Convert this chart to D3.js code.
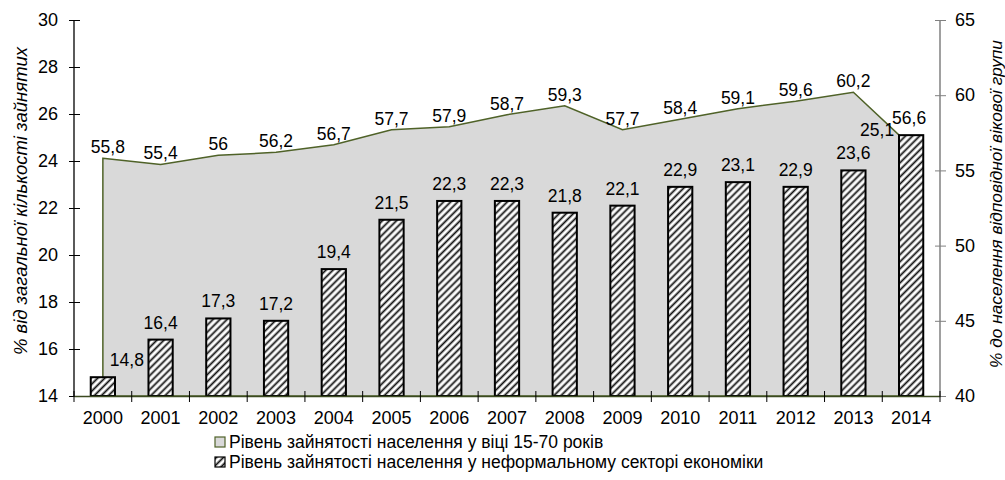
<!DOCTYPE html>
<html><head><meta charset="utf-8">
<script src="https://cdn.jsdelivr.net/npm/d3@7/dist/d3.min.js"></script>
<style>
body{margin:0;background:#fff;}
text{font-family:"Liberation Sans",Arial,sans-serif;fill:#000;}
</style></head>
<body><svg id="c" width="1005" height="480"></svg>
<script>
const years = ["2000","2001","2002","2003","2004","2005","2006","2007","2008","2009","2010","2011","2012","2013","2014"];
const employment1570 = [55.8,55.4,56,56.2,56.7,57.7,57.9,58.7,59.3,57.7,58.4,59.1,59.6,60.2,56.6];
const informal = [14.8,16.4,17.3,17.2,19.4,21.5,22.3,22.3,21.8,22.1,22.9,23.1,22.9,23.6,25.1];
const leftTicks = [14,16,18,20,22,24,26,28,30];
const rightTicks = [40,45,50,55,60,65];
const legendLabels = ["Рівень зайнятості населення у віці 15-70 років","Рівень зайнятості населення у неформальному секторі економіки"];
const leftTitle = "% від загальної кількості зайнятих";
const rightTitle = "% до населення відповідної вікової групи";

const svg = d3.select("#c");
const L=74, R=940, T=20, B=396;
const FS = "17.5px";
const fmt = v => String(v).replace(".", ",");

const x = d3.scaleBand().domain(years).range([L,R]).padding(0);
const yL = d3.scaleLinear().domain([14,30]).range([B,T]);
const yR = d3.scaleLinear().domain([40,65]).range([B,T]);
const bw = x.bandwidth()*0.42;
const cx = d => x(d)+x.bandwidth()/2;

const defs = svg.append("defs");
const P = 5;
const pat = defs.append("pattern").attr("id","hatch").attr("patternUnits","userSpaceOnUse")
  .attr("width",P).attr("height",P).attr("patternTransform","rotate(45)");
pat.append("rect").attr("width",P).attr("height",P).attr("fill","#fff");
pat.append("rect").attr("x",0).attr("width",0.8).attr("height",P).attr("fill","#a0a0a0");
pat.append("rect").attr("x",0.8).attr("width",1.3).attr("height",P).attr("fill","#111");
pat.append("rect").attr("x",2.1).attr("width",0.8).attr("height",P).attr("fill","#a0a0a0");

// area
const area = d3.area().x((d,i)=>cx(years[i])).y0(B).y1(d=>yR(d));
svg.append("path").datum(employment1570).attr("d",area)
  .attr("fill","#d9d9d9").attr("stroke","#4f6228").attr("stroke-width",1.5);

// bars
svg.append("g").selectAll("rect").data(informal).join("rect")
  .attr("x",(d,i)=>cx(years[i])-bw/2).attr("width",bw)
  .attr("y",d=>yL(d)).attr("height",d=>B-yL(d))
  .attr("fill","url(#hatch)").attr("stroke","#000").attr("stroke-width",2);

// left axis
const gl = svg.append("g").attr("transform",`translate(${L},0)`)
  .call(d3.axisLeft(yL).tickValues(leftTicks).tickSize(5).tickPadding(11).tickFormat(d=>d));
gl.select(".domain").attr("stroke","#000").attr("stroke-width",1.3).attr("d",`M0,${T}V${B}`);
gl.selectAll(".tick line").attr("x1",6).attr("x2",-5).attr("stroke","#000");
gl.selectAll(".tick text").style("font-size","18px");

// right axis
const gr = svg.append("g").attr("transform",`translate(${R},0)`)
  .call(d3.axisRight(yR).tickValues(rightTicks).tickSize(6).tickPadding(9).tickFormat(d=>d));
gr.select(".domain").attr("stroke","#808080").attr("stroke-width",1.5).attr("d",`M0,${T}V${B}`);
gr.selectAll(".tick line").attr("x1",-5).attr("x2",6).attr("stroke","#808080");
gr.selectAll(".tick text").style("font-size","18px");

// x axis
const gx = svg.append("g").attr("transform",`translate(0,${B})`)
  .call(d3.axisBottom(x).tickSize(0).tickPadding(15));
gx.select(".domain").attr("stroke","#3b4a20").attr("stroke-width",1.3);
gx.selectAll(".tick text").style("font-size","18px");
const bounds = years.map(d=>x(d)).concat([R]);
svg.append("g").selectAll("line").data(bounds).join("line")
  .attr("x1",d=>d).attr("x2",d=>d).attr("y1",B-5).attr("y2",B+6)
  .attr("stroke","#000").attr("stroke-width",1);

// bar labels
const barOff = {0:[24,0],14:[-34,12]};
svg.append("g").selectAll("text").data(informal).join("text")
  .attr("x",(d,i)=>cx(years[i])+(barOff[i]?barOff[i][0]:0))
  .attr("y",(d,i)=>yL(d)-11+(barOff[i]?barOff[i][1]:0))
  .attr("text-anchor","middle").style("font-size",FS).text(d=>fmt(d));

// line labels
const lineOff = {0:[5,0],14:[-2,-17]};
svg.append("g").selectAll("text").data(employment1570).join("text")
  .attr("x",(d,i)=>cx(years[i])+(lineOff[i]?lineOff[i][0]:0))
  .attr("y",(d,i)=>yR(d)-5+(lineOff[i]?lineOff[i][1]:0))
  .attr("text-anchor","middle").style("font-size",FS).text(d=>fmt(d));

// titles
svg.append("text").attr("transform",`translate(27,201) rotate(-90)`)
  .attr("text-anchor","middle").style("font-size","18.5px").style("font-style","italic").text(leftTitle);
svg.append("text").attr("transform",`translate(1002,204) rotate(-90)`)
  .attr("text-anchor","middle").style("font-size","17.3px").style("font-style","italic").text(rightTitle);

// legend
const lg = svg.append("g");
const fills = ["#d9d9d9","url(#hatch)"], strokes=["#4f6228","#000"];
legendLabels.forEach((t,i)=>{
  const yy = 442 + i*20;
  lg.append("rect").attr("x",215).attr("y",yy-5).attr("width",10).attr("height",10)
    .attr("fill",fills[i]).attr("stroke",strokes[i]).attr("stroke-width",1.2);
  lg.append("text").attr("x",229).attr("y",yy+6).style("font-size",FS).text(t);
});
</script></body></html>
